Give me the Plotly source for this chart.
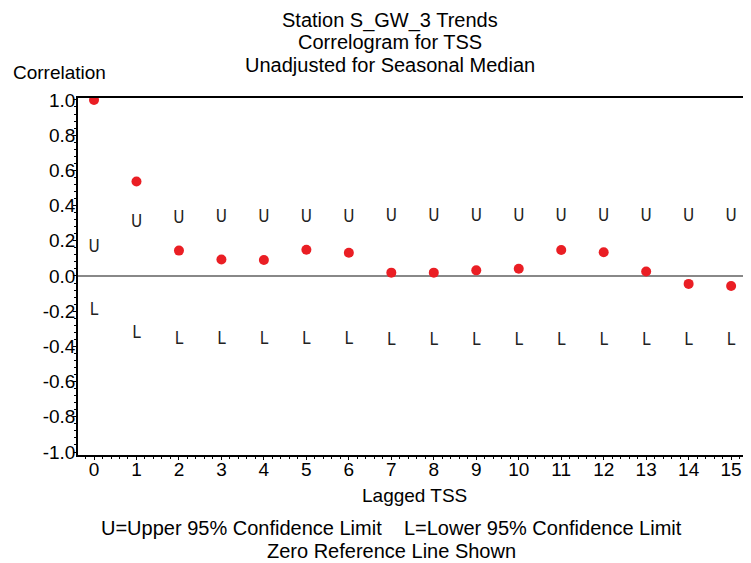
import plotly.graph_objects as go

lags = list(range(16))
correlation = [1.0, 0.537, 0.144, 0.094, 0.091, 0.149, 0.132, 0.019,
               0.019, 0.032, 0.041, 0.148, 0.135, 0.025, -0.045, -0.057]
upper_limit = [0.161, 0.30, 0.326, 0.33, 0.33, 0.33, 0.33, 0.337,
               0.337, 0.337, 0.337, 0.337, 0.337, 0.337, 0.337, 0.337]
lower_limit = [-0.20, -0.33, -0.36, -0.36, -0.36, -0.36, -0.36, -0.37,
               -0.37, -0.37, -0.37, -0.37, -0.37, -0.37, -0.37, -0.37]
y_ticks = [-1.0, -0.8, -0.6, -0.4, -0.2, 0.0, 0.2, 0.4, 0.6, 0.8, 1.0]

title_lines = ["Station S_GW_3 Trends", "Correlogram for TSS", "Unadjusted for Seasonal Median"]
footnote_lines = ["U=Upper 95% Confidence Limit    L=Lower 95% Confidence Limit", "Zero Reference Line Shown"]

FONT = "Liberation Sans, Arial, sans-serif"
LIMIT_FONT = dict(family="Liberation Sans Narrow, DejaVu Sans Condensed, Liberation Sans", size=17, color="#222222")

# page body keeps an 8px margin, so screen positions are shifted by 8px
PLOT_L, PLOT_R, PLOT_T, PLOT_B = 78, 743, 98, 455
PLOT_W = PLOT_R - PLOT_L
PLOT_H = PLOT_B - PLOT_T


def px(x):
    return (x - PLOT_L) / PLOT_W


def py(y):
    return (PLOT_B - y) / PLOT_H


fig = go.Figure()
fig.add_trace(go.Scatter(x=lags, y=upper_limit, mode="text", text=["U"] * len(lags),
                         textposition="middle center", textfont=LIMIT_FONT, showlegend=False))
fig.add_trace(go.Scatter(x=lags, y=lower_limit, mode="text", text=["L"] * len(lags),
                         textposition="middle center", textfont=LIMIT_FONT, showlegend=False))
fig.add_trace(go.Scatter(x=lags, y=correlation, mode="markers",
                         marker=dict(color="rgb(234,30,36)", size=10, line=dict(width=0)),
                         showlegend=False))

annotations = []
for i, line in enumerate(title_lines):
    annotations.append(dict(text=line, xref="paper", yref="paper", x=px(390), y=py([20, 42, 65][i]),
                            xanchor="center", yanchor="middle", showarrow=False, font=dict(size=20)))
for i, line in enumerate(footnote_lines):
    annotations.append(dict(text=line, xref="paper", yref="paper", x=px(391), y=py([528, 551][i]),
                            xanchor="center", yanchor="middle", showarrow=False, font=dict(size=20)))
annotations.append(dict(text="Correlation", xref="paper", yref="paper", x=px(59), y=py(72),
                        xanchor="center", yanchor="middle", showarrow=False, font=dict(size=19)))
annotations.append(dict(text="Lagged TSS", xref="paper", yref="paper", x=px(414), y=py(495),
                        xanchor="center", yanchor="middle", showarrow=False, font=dict(size=19)))

fig.update_layout(
    width=735, height=555,
    margin=dict(l=70, r=0, t=90, b=108),
    plot_bgcolor="white", paper_bgcolor="white",
    font=dict(family=FONT, size=19, color="black"),
    xaxis=dict(
        range=[-0.377, 15.28], tickmode="array", tickvals=lags,
        showgrid=False, zeroline=False,
        showline=True, linecolor="black", linewidth=1.5, mirror=True,
        ticks="outside", ticklen=3, tickwidth=1, tickcolor="black",
        minor=dict(dtick=0.2, ticks="outside", ticklen=2, tickcolor="black"),
        tickfont=dict(size=19), ticklabelstandoff=-7,
    ),
    yaxis=dict(
        range=[-1.017, 1.011], tickmode="array", tickvals=y_ticks,
        ticktext=[f"{v:.1f}" for v in y_ticks],
        showgrid=False, zeroline=True, zerolinecolor="#888888", zerolinewidth=1.5,
        showline=True, linecolor="black", linewidth=1.5,
        ticks="outside", ticklen=3, tickwidth=1, tickcolor="black",
        minor=dict(dtick=0.04, ticks="outside", ticklen=2, tickcolor="black"),
        tickfont=dict(size=19), ticklabelstandoff=-6,
    ),
    annotations=annotations,
)

fig.write_html("out.html")
